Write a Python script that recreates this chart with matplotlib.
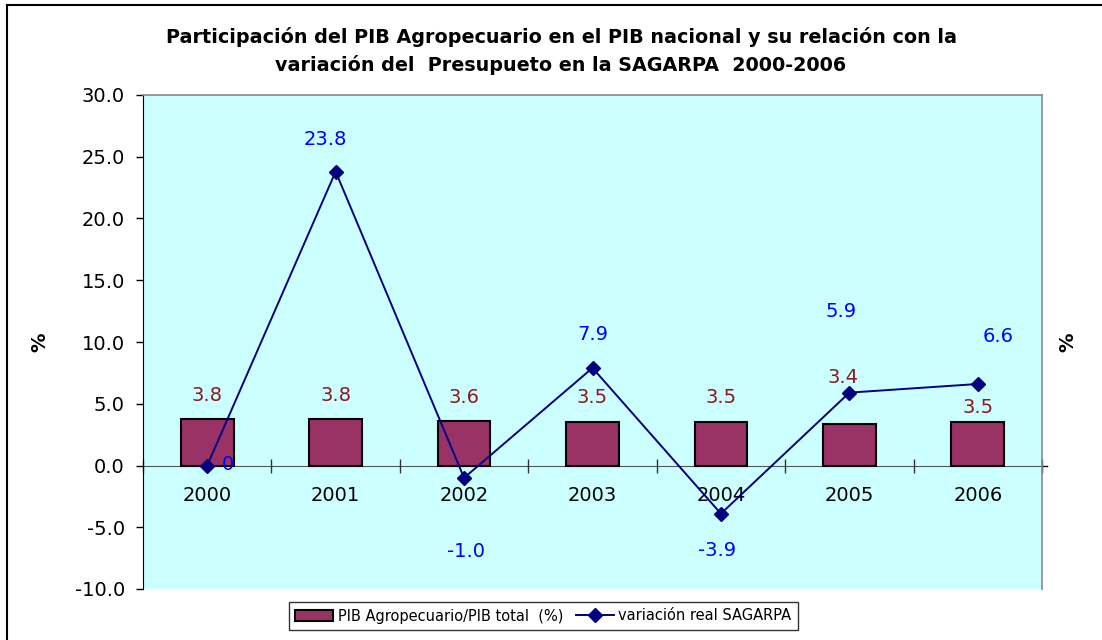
import matplotlib
matplotlib.use("Agg")
import matplotlib.pyplot as plt
from matplotlib.lines import Line2D
from matplotlib.patches import Patch
import numpy as np

years = ["2000", "2001", "2002", "2003", "2004", "2005", "2006"]
pib_share = [3.8, 3.8, 3.6, 3.5, 3.5, 3.4, 3.5]
pib_labels = ["3.8", "3.8", "3.6", "3.5", "3.5", "3.4", "3.5"]
sagarpa_var = [0.0, 23.8, -1.0, 7.9, -3.9, 5.9, 6.6]
sagarpa_labels = ["0", "23.8", "-1.0", "7.9", "-3.9", "5.9", "6.6"]
yticks = [-10, -5, 0, 5, 10, 15, 20, 25, 30]

plt.rcParams['font.family'] = ['DejaVu Sans']

W, H = 1102, 640
fig = plt.figure(figsize=(W / 100, H / 100), dpi=100)
fig.patch.set_facecolor('white')

# outer chart border (top and left visible)
fig.add_artist(Line2D([6.5 / W, 6.5 / W], [0, 1 - 5 / H], transform=fig.transFigure,
                      color='black', lw=1.5))
fig.add_artist(Line2D([6.5 / W, 1], [1 - 5 / H, 1 - 5 / H], transform=fig.transFigure,
                      color='black', lw=1.5))

ax = fig.add_axes([143 / W, 1 - 589 / H, 899 / W, 494 / H])
ax.set_facecolor('#CCFFFF')
x = np.arange(len(years))
ax.bar(x, pib_share, width=0.41, color='#993366', edgecolor='black', linewidth=1.5, zorder=2)
ax.plot(x, sagarpa_var, color='#000080', linewidth=1.4, marker='D', markersize=7,
        markerfacecolor='#000080', zorder=3)

ax.set_xlim(-0.5, len(years) - 0.5)
ax.set_ylim(-10, 30)
ax.set_yticks(yticks)
ax.set_yticklabels([f"{v:.1f}" for v in yticks], fontsize=14)
ax.tick_params(axis='y', direction='out', length=5, width=1, pad=8)

# category axis crossing at zero
ax.spines['bottom'].set_position(('data', 0))
ax.spines['bottom'].set_color('#555555')
ax.spines['bottom'].set_zorder(1)
ax.set_xticks(np.arange(len(years) + 1) - 0.5)
ax.set_xticklabels([])
ax.tick_params(axis='x', which='major', direction='inout', length=10, width=1, color='#333333')
ax.set_xticks(x, minor=True)
ax.set_xticklabels(years, minor=True, fontsize=14)
ax.tick_params(axis='x', which='minor', length=0, pad=15)

for s in ['top', 'right']:
    ax.spines[s].set_color('#888888')
    ax.spines[s].set_linewidth(1.2)
ax.spines['left'].set_color('black')

# zero tick on right side
ax.plot([1.0, 1.006], [0, 0], transform=ax.get_yaxis_transform(), color='black', lw=1,
        clip_on=False)

ax.set_ylabel('%', fontsize=14, fontweight='bold')
ax.yaxis.set_label_coords(-0.104, 0.5)
ax.text(1.029, 0.5, '%', transform=ax.transAxes, rotation=90, fontsize=14, fontweight='bold',
        ha='center', va='center')

# data labels (offsets in pixels)
pib_offsets = [(0, 23), (0, 23), (0, 24), (0, 25), (0, 25), (-6, 46), (0, 15)]
for i, (v, lab) in enumerate(zip(pib_share, pib_labels)):
    dx, dy = pib_offsets[i]
    ax.annotate(lab, (i, v), xytext=(dx * 0.72, dy * 0.72), textcoords='offset points',
                ha='center', va='center', color='#8B1A1A', fontsize=14, zorder=4)
sag_offsets = [(21, 1), (-10, 32), (2, -74), (0, 33), (-4, -37), (-8, 81), (20, 47)]
for i, (v, lab) in enumerate(zip(sagarpa_var, sagarpa_labels)):
    dx, dy = sag_offsets[i]
    ax.annotate(lab, (i, v), xytext=(dx * 0.72, dy * 0.72), textcoords='offset points',
                ha='center', va='center', color='#0000FF', fontsize=14, zorder=4)

fig.text(561 / W, 1 - 37 / H,
         'Participación del PIB Agropecuario en el PIB nacional y su relación con la',
         ha='center', va='center', fontsize=13.8, fontweight='bold')
fig.text(561 / W, 1 - 65 / H,
         'variación del  Presupueto en la SAGARPA  2000-2006',
         ha='center', va='center', fontsize=13.8, fontweight='bold')

handles = [Patch(facecolor='#993366', edgecolor='black', linewidth=1.5),
           Line2D([], [], color='#000080', marker='D', markersize=7, linewidth=1.4)]
leg = fig.legend(handles, ['PIB Agropecuario/PIB total  (%)', 'variación real SAGARPA'],
                 loc='center', bbox_to_anchor=(543.5 / W, 1 - 616 / H), ncol=2, fontsize=10.5,
                 frameon=True, fancybox=False, handlelength=2.6, handletextpad=0.3,
                 columnspacing=0.9, borderpad=0.45, borderaxespad=0)
leg.get_frame().set_edgecolor('black')
leg.get_frame().set_linewidth(1.0)

fig.savefig('out.png', dpi=100)
